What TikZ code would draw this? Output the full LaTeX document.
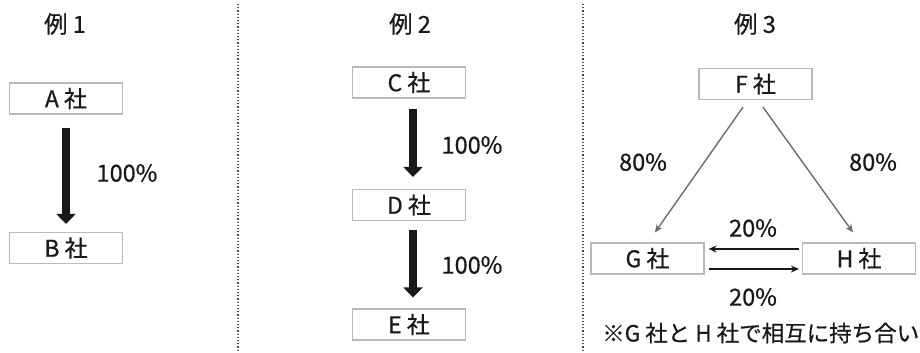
\documentclass[tikz,border=0pt]{standalone}
\usepackage{fontspec}
\setmainfont[FakeBold=0.6]{Noto Sans CJK JP}
\usetikzlibrary{arrows.meta}
\tikzset{
  box/.style={draw=gray!55, line width=1.2pt, minimum width=113pt, minimum height=31pt, inner sep=0pt, font=\fontsize{23}{26}\selectfont, text=black!90},
  lbl/.style={font=\fontsize{23.5}{26}\selectfont, text=black!90, inner sep=0pt},
  bigarrow/.style={line width=8pt, black!90, -{Triangle[width=19pt,length=10pt]}},
  diagarrow/.style={line width=1.4pt, gray!85!black, -{Stealth[width=7pt,length=8pt]}},
  horarrow/.style={line width=1.4pt, black!90, -{Stealth[width=7pt,length=8pt]}},
  divider/.style={line width=1.2pt, black!70, dotted}
}
\begin{document}
\begin{tikzpicture}[x=1pt,y=-1pt]
\path[fill=white] (0,0) rectangle (920,353);
\useasboundingbox (0,0) rectangle (920,353);
% dividers
\coordinate (d1t) at (238,4); \coordinate (d1b) at (238,350);
\coordinate (d2t) at (583,4); \coordinate (d2b) at (583,350);
\draw[divider] (d1t) -- (d1b);
\draw[divider] (d2t) -- (d2b);
% titles
\node[lbl] (t1) at (65,24) {例 1};
\node[lbl] (t2) at (410,24) {例 2};
\node[lbl] (t3) at (755,24) {例 3};
% example 1
\node[box] (A) at (66,98.5) {A 社};
\node[box] (B) at (66,248) {B 社};
\draw[bigarrow, shorten <=13pt, shorten >=8pt] (A.south) -- (B.north);
\node[lbl] (p1) at (127,173) {100\%};
% example 2
\node[box] (C) at (409,82.5) {C 社};
\node[box] (D) at (409,205) {D 社};
\node[box] (E) at (409,324.5) {E 社};
\draw[bigarrow, shorten <=10pt, shorten >=12pt] ([xshift=4pt]C.south) -- ([xshift=4pt]D.north);
\draw[bigarrow, shorten <=9pt, shorten >=11pt] ([xshift=4pt]D.south) -- ([xshift=4pt]E.north);
\node[lbl] (p2) at (472,145) {100\%};
\node[lbl] (p3) at (472,265) {100\%};
% example 3
\node[box] (F) at (755.5,84) {F 社};
\node[box] (G) at (647.5,258.5) {G 社};
\node[box] (H) at (859,258.5) {H 社};
\draw[diagarrow] ([xshift=-12.5pt,yshift=-7pt]F.south) -- ([xshift=7.5pt,yshift=10pt]G.north);
\draw[diagarrow] ([xshift=7.5pt,yshift=-7pt]F.south) -- ([xshift=-6pt,yshift=10pt]H.north);
\draw[horarrow] ([xshift=-3pt,yshift=9.5pt]H.west) -- ([xshift=4pt,yshift=9.5pt]G.east);
\draw[horarrow] ([xshift=4pt,yshift=-10.5pt]G.east) -- ([xshift=-3pt,yshift=-10.5pt]H.west);
\node[lbl] (q1) at (643,162) {80\%};
\node[lbl] (q2) at (873,162) {80\%};
\node[lbl] (q3) at (753,228) {20\%};
\node[lbl] (q4) at (753,297) {20\%};
\node[lbl, anchor=west, font=\fontsize{22.5}{26}\selectfont] (note) at (602,333) {※G 社と H 社で相互に持ち合い};
\end{tikzpicture}
\end{document}
